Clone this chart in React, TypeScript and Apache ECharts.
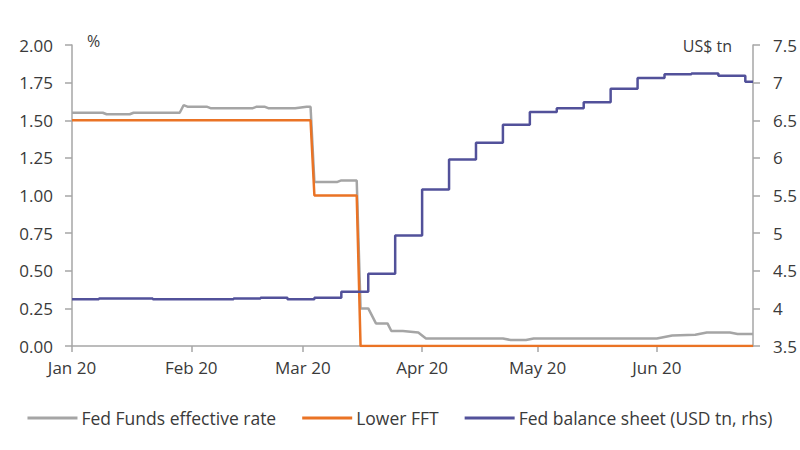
import React, { useEffect, useRef } from "react";
import * as echarts from "echarts";

const effrDates = [
  "2020-01-01", "2020-01-09", "2020-01-10", "2020-01-16", "2020-01-17", "2020-01-29", "2020-01-30",
  "2020-01-31", "2020-02-05", "2020-02-06", "2020-02-17", "2020-02-18", "2020-02-20", "2020-02-21",
  "2020-02-28", "2020-03-02", "2020-03-03", "2020-03-04", "2020-03-10", "2020-03-11", "2020-03-15",
  "2020-03-16", "2020-03-18", "2020-03-20", "2020-03-23", "2020-03-24", "2020-03-27", "2020-03-31",
  "2020-04-02", "2020-04-22", "2020-04-24", "2020-04-28", "2020-04-30", "2020-06-01", "2020-06-03",
  "2020-06-05", "2020-06-11", "2020-06-14", "2020-06-20", "2020-06-22", "2020-06-26",
];
const effrValues = [
  1.55, 1.55, 1.54, 1.54, 1.55, 1.55, 1.6,
  1.59, 1.59, 1.58, 1.58, 1.59, 1.59, 1.58,
  1.58, 1.59, 1.59, 1.09, 1.09, 1.1, 1.1,
  0.25, 0.25, 0.15, 0.15, 0.1, 0.1, 0.09,
  0.05, 0.05, 0.04, 0.04, 0.05, 0.05, 0.06,
  0.07, 0.075, 0.09, 0.09, 0.08, 0.08,
];

const fftDates = ["2020-01-01", "2020-03-03", "2020-03-04", "2020-03-15", "2020-03-16", "2020-06-26"];
const fftValues = [1.5, 1.5, 1.0, 1.0, 0, 0];

const bsDates = [
  "2020-01-01", "2020-01-08", "2020-01-15", "2020-01-22", "2020-01-29", "2020-02-05", "2020-02-12",
  "2020-02-19", "2020-02-26", "2020-03-04", "2020-03-11", "2020-03-18", "2020-03-25", "2020-04-01",
  "2020-04-08", "2020-04-15", "2020-04-22", "2020-04-29", "2020-05-06", "2020-05-13", "2020-05-20",
  "2020-05-27", "2020-06-03", "2020-06-10", "2020-06-17", "2020-06-24", "2020-06-26",
];
const bsValues = [
  4.12, 4.13, 4.13, 4.12, 4.12, 4.12, 4.13,
  4.14, 4.12, 4.14, 4.22, 4.46, 4.97, 5.58,
  5.98, 6.2, 6.44, 6.61, 6.66, 6.74, 6.92,
  7.06, 7.11, 7.12, 7.09, 7.01, 7.01,
];

const seriesNames = ["Fed Funds effective rate", "Lower FFT", "Fed balance sheet (USD tn, rhs)"];
const monthNames = ["Jan", "Feb", "Mar", "Apr", "May", "Jun", "Jul", "Aug", "Sep", "Oct", "Nov", "Dec"];

const zip = (d: string[], v: number[]) => d.map((x, i) => [x, v[i]]);

const FONT = "'Open Sans', 'Noto Sans', sans-serif";
const TXT = "#3a3a3a";
const AXIS = "#a6a6a6";
const COLORS = ["#a5a5a5", "#ea7325", "#52519a"];

export default function App() {
  const ref = useRef<HTMLDivElement>(null);
  useEffect(() => {
    if (!ref.current) return;
    const chart = echarts.init(ref.current, null, { renderer: "svg" });
    chart.setOption({
      animation: false,
      textStyle: { fontFamily: FONT },
      grid: { left: 72, right: 47, top: 45, bottom: 104 },
      xAxis: {
        type: "time",
        min: new Date(2020, 0, 1).getTime(),
        max: new Date(2020, 5, 26).getTime(),
        splitLine: { show: false },
        axisLine: { lineStyle: { color: AXIS, width: 1.5 } },
        axisTick: { show: true, length: 6, lineStyle: { color: AXIS, width: 1.5 } },
        axisLabel: {
          color: TXT,
          fontSize: 17,
          fontFamily: FONT,
          margin: 13,
          showMaxLabel: false,
          formatter: (v: number) => {
            const d = new Date(v);
            return monthNames[d.getMonth()] + " " + String(d.getFullYear()).slice(2);
          },
        },
      },
      yAxis: [
        {
          type: "value",
          min: 0,
          max: 2,
          interval: 0.25,
          splitLine: { show: false },
          axisLine: { show: true, lineStyle: { color: AXIS, width: 1.5 } },
          axisTick: { show: true, length: 7, lineStyle: { color: AXIS, width: 1.5 } },
          axisLabel: {
            color: TXT,
            fontSize: 17,
            fontFamily: FONT,
            margin: 19,
            formatter: (v: number) => v.toFixed(2),
          },
        },
        {
          type: "value",
          min: 3.5,
          max: 7.5,
          interval: 0.5,
          position: "right",
          splitLine: { show: false },
          axisLine: { show: true, lineStyle: { color: AXIS, width: 1.5 } },
          axisTick: { show: true, length: 7, lineStyle: { color: AXIS, width: 1.5 } },
          axisLabel: { color: TXT, fontSize: 17, fontFamily: FONT, margin: 20 },
        },
      ],
      legend: {
        left: "center",
        top: 404,
        icon: "rect",
        itemWidth: 50,
        itemHeight: 3,
        itemGap: 26,
        textStyle: { color: TXT, fontSize: 17.5, fontFamily: FONT, padding: [0, 0, 0, -1] },
        data: seriesNames,
      },
      graphic: [
        {
          type: "text",
          left: 87,
          top: 33,
          style: { text: "%", fill: TXT, font: `16px ${FONT}` },
        },
        {
          type: "text",
          right: 68,
          top: 38,
          style: { text: "US$ tn", fill: TXT, font: `16px ${FONT}` },
        },
      ],
      series: [
        {
          name: seriesNames[0],
          type: "line",
          yAxisIndex: 0,
          symbol: "none",
          data: zip(effrDates, effrValues),
          lineStyle: { color: COLORS[0], width: 2.5 },
          itemStyle: { color: COLORS[0] },
          z: 2,
        },
        {
          name: seriesNames[1],
          type: "line",
          yAxisIndex: 0,
          symbol: "none",
          data: zip(fftDates, fftValues),
          lineStyle: { color: COLORS[1], width: 2.5 },
          itemStyle: { color: COLORS[1] },
          z: 3,
        },
        {
          name: seriesNames[2],
          type: "line",
          yAxisIndex: 1,
          symbol: "none",
          step: "end",
          data: zip(bsDates, bsValues),
          lineStyle: { color: COLORS[2], width: 2.5 },
          itemStyle: { color: COLORS[2] },
          z: 4,
        },
      ],
    });
    return () => chart.dispose();
  }, []);
  return <div ref={ref} style={{ width: 800, height: 450, position: "absolute", left: 0, top: 0 }} />;
}
